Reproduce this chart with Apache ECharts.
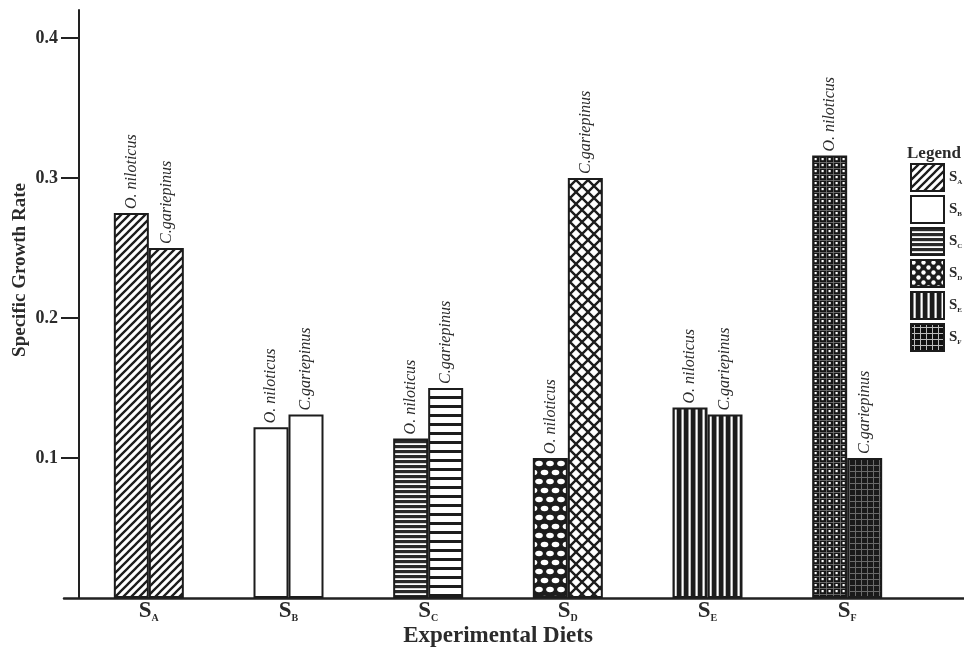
<!DOCTYPE html>
<html>
<head>
<meta charset="utf-8">
<script src="https://cdn.jsdelivr.net/npm/echarts@6/dist/echarts.min.js"></script>
<style>html,body{margin:0;padding:0;background:#fff}#c{width:964px;height:653px}</style>
</head>
<body>
<div id="c"></div>
<script>
// ---- data ----
const categories = ['SA', 'SB', 'SC', 'SD', 'SE', 'SF'];
const subscripts = ['A', 'B', 'C', 'D', 'E', 'F'];
const oNiloticus = [0.275, 0.122, 0.114, 0.100, 0.136, 0.316];
const cGariepinus = [0.250, 0.131, 0.150, 0.300, 0.131, 0.100];
const seriesNames = ['O. niloticus', 'C.gariepinus'];
const yTickValues = [0.1, 0.2, 0.3, 0.4];
const yAxisTitle = 'Specific Growth Rate';
const xAxisTitle = 'Experimental Diets';

// ---- patterns ----
function tile(w, h, draw) {
  const c = document.createElement('canvas');
  c.width = w; c.height = h;
  const g = c.getContext('2d');
  draw(g, w, h);
  return { image: c, repeat: 'repeat' };
}
const INK = '#1c1c1c';
const diag = tile(8, 8, (g, w, h) => {
  g.fillStyle = '#fff'; g.fillRect(0, 0, w, h);
  g.strokeStyle = INK; g.lineWidth = 2.3;
  g.beginPath();
  g.moveTo(-1, 9); g.lineTo(9, -1);
  g.moveTo(-1, 1); g.lineTo(1, -1);
  g.moveTo(7, 9); g.lineTo(9, 7);
  g.stroke();
});
const white = '#ffffff';
const hDense = tile(4, 5, (g, w, h) => {
  g.fillStyle = '#fff'; g.fillRect(0, 0, w, h);
  g.fillStyle = '#2a2a2a'; g.fillRect(0, 0, w, 3.2);
});
const hSparse = tile(4, 9, (g, w, h) => {
  g.fillStyle = '#fff'; g.fillRect(0, 0, w, h);
  g.fillStyle = INK; g.fillRect(0, 0, w, 3);
});
const ovals = tile(11, 18, (g, w, h) => {
  g.fillStyle = INK; g.fillRect(0, 0, w, h);
  g.fillStyle = '#fff';
  const pts = [[5.5, 4.5], [0, 13.5], [11, 13.5]];
  pts.forEach(p => { g.beginPath(); g.ellipse(p[0], p[1], 3.8, 2.8, 0, 0, Math.PI * 2); g.fill(); });
});
const xHatch = tile(12, 12, (g, w, h) => {
  g.fillStyle = '#fff'; g.fillRect(0, 0, w, h);
  g.strokeStyle = INK; g.lineWidth = 2.4;
  g.beginPath();
  g.moveTo(-1, -1); g.lineTo(13, 13);
  g.moveTo(13, -1); g.lineTo(-1, 13);
  g.stroke();
});
const vStripes = tile(7, 4, (g, w, h) => {
  g.fillStyle = INK; g.fillRect(0, 0, w, h);
  g.fillStyle = '#fff'; g.fillRect(2.5, 0, 2.2, h);
});
const dotGrid = tile(7, 6, (g, w, h) => {
  g.fillStyle = '#151515'; g.fillRect(0, 0, w, h);
  g.fillStyle = '#777'; g.fillRect(0, 0, w, 0.8); g.fillRect(0, 0, 0.8, h);
  g.fillStyle = '#fff'; g.fillRect(2.5, 2, 2.2, 2.2);
});
const darkGrid = tile(6, 6, (g, w, h) => {
  g.fillStyle = '#1a1a1a'; g.fillRect(0, 0, w, h);
  g.fillStyle = '#6a6a6a'; g.fillRect(0, 3, w, 1); g.fillRect(3, 0, 1, h);
});
const legendGrid = tile(6, 6, (g, w, h) => {
  g.fillStyle = '#111'; g.fillRect(0, 0, w, h);
  g.fillStyle = '#bbb'; g.fillRect(0, 3, w, 1); g.fillRect(3, 0, 1, h);
});
const legendDots = tile(10, 10, (g, w, h) => {
  g.fillStyle = INK; g.fillRect(0, 0, w, h);
  g.fillStyle = '#fff';
  [[2.5, 2.5], [7.5, 7.5]].forEach(p => { g.beginPath(); g.arc(p[0], p[1], 2.2, 0, Math.PI * 2); g.fill(); });
});

const patternsO = [diag, white, hDense, ovals, vStripes, dotGrid];
const patternsC = [diag, white, hSparse, xHatch, vStripes, darkGrid];
const patternsLegend = [diag, white, hDense, legendDots, vStripes, legendGrid];

const SERIF = '"Liberation Serif", "DejaVu Serif", serif';
const TXT = '#2b2b2b';

const labelOf = name => ({
  show: true, position: 'top', rotate: 90, align: 'left', verticalAlign: 'middle',
  distance: 4, formatter: name, fontFamily: SERIF, fontStyle: 'italic',
  fontSize: 16, color: TXT
});

const mainSeries = [oNiloticus, cGariepinus].map((vals, s) => ({
  name: seriesNames[s],
  type: 'bar',
  xAxisIndex: 0, yAxisIndex: 0,
  barWidth: 35,
  barGap: '0%',
  itemStyle: { borderColor: INK, borderWidth: 2 },
  label: labelOf(seriesNames[s]),
  data: vals.map((v, i) => ({
    value: v,
    itemStyle: { color: (s === 0 ? patternsO : patternsC)[i] }
  })),
  z: 3
}));

const legendSeries = categories.map((c, i) => ({
  name: c, type: 'bar', xAxisIndex: 1, yAxisIndex: 1, data: [],
  itemStyle: { color: patternsLegend[i], borderColor: INK, borderWidth: 2 }
}));

const chart = echarts.init(document.getElementById('c'), null, { renderer: 'canvas' });
chart.setOption({
  animation: false,
  backgroundColor: '#fff',
  title: {
    text: 'Legend', left: 902, top: 140,
    textStyle: { fontFamily: SERIF, fontWeight: 'bold', fontSize: 17, color: TXT }
  },
  legend: {
    data: categories,
    orient: 'vertical', left: 905, top: 158,
    itemWidth: 33, itemHeight: 27, itemGap: 3,
    icon: 'rect',
    selectedMode: false,
    formatter: name => '{s|S}{sub|' + name.slice(1) + '}',
    textStyle: {
      color: TXT, lineHeight: 16,
      rich: {
        s: { fontFamily: SERIF, fontWeight: 'bold', fontSize: 15, lineHeight: 16, color: TXT },
        sub: { fontFamily: SERIF, fontWeight: 'bold', fontSize: 7, lineHeight: 10, color: TXT, verticalAlign: 'bottom' }
      }
    }
  },
  grid: [
    { left: 79, right: 47, top: 10, bottom: 55, containLabel: false, outerBoundsMode: 'none' },
    { left: 64, right: 0, top: 10, bottom: 55, containLabel: false, outerBoundsMode: 'none' }
  ],
  xAxis: [
    {
      type: 'category', gridIndex: 0, data: categories,
      axisLine: { show: false }, axisTick: { show: false },
      axisLabel: {
        margin: 2,
        formatter: (v, i) => '{s|S}{sub|' + subscripts[i] + '}',
        rich: {
          s: { fontFamily: SERIF, fontWeight: 'bold', fontSize: 23, color: TXT },
          sub: { fontFamily: SERIF, fontWeight: 'bold', fontSize: 10, color: TXT, verticalAlign: 'bottom', padding: [10, 0, 0, 0] }
        }
      },
      name: xAxisTitle, nameLocation: 'middle', nameGap: 27, nameMoveOverlap: false,
      nameTextStyle: { fontFamily: SERIF, fontWeight: 'bold', fontSize: 23, color: TXT }
    },
    {
      type: 'value', gridIndex: 1, min: 0, max: 1,
      axisLine: { show: true, onZero: false, lineStyle: { color: '#222', width: 2.5 } },
      axisTick: { show: false }, axisLabel: { show: false }, splitLine: { show: false }
    }
  ],
  yAxis: [
    {
      type: 'value', gridIndex: 0, min: 0, max: 0.42, interval: 0.1,
      axisLine: { show: true, lineStyle: { color: '#222', width: 2 } },
      axisTick: { show: true, length: 18, customValues: yTickValues, lineStyle: { color: '#222', width: 2 } },
      splitLine: { show: false },
      axisLabel: {
        customValues: yTickValues, margin: 21,
        formatter: v => Number(v).toFixed(1),
        fontFamily: SERIF, fontWeight: 'bold', fontSize: 18, color: TXT
      },
      name: yAxisTitle, nameLocation: 'middle', nameGap: 49, nameMoveOverlap: false,
      nameTextStyle: { fontFamily: SERIF, fontWeight: 'bold', fontSize: 19, color: TXT, padding: [0, 0, 0, 68] }
    },
    { type: 'value', gridIndex: 1, min: 0, max: 1, show: false }
  ],
  series: mainSeries.concat(legendSeries)
});
</script>
</body>
</html>
